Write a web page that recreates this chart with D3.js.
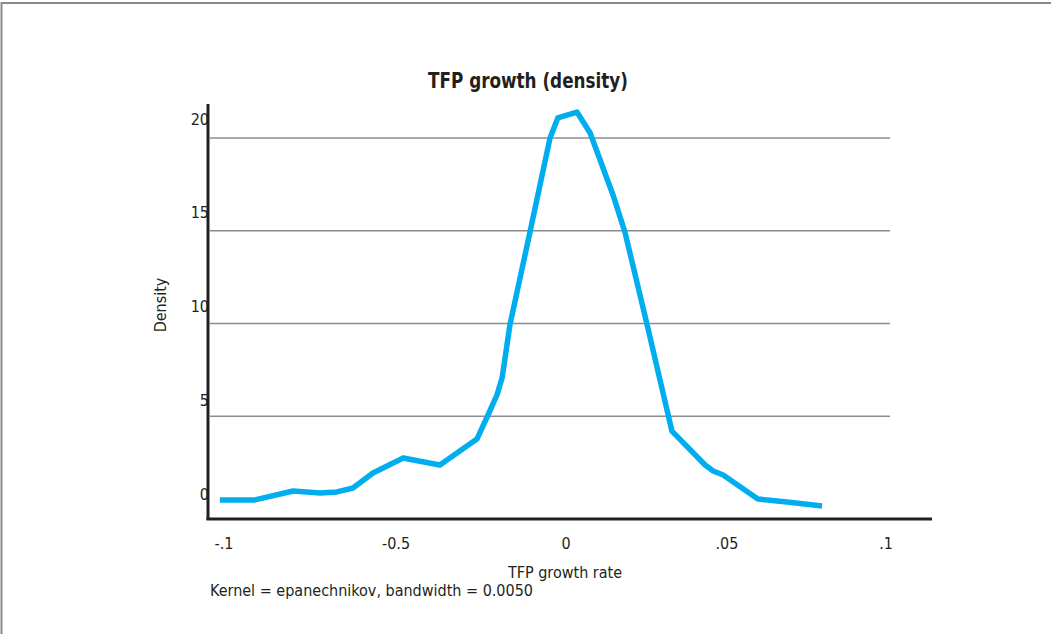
<!DOCTYPE html>
<html lang="en">
<head>
	<meta charset="UTF-8">
	<title>TFP growth (density)</title>
	<script src="https://d3js.org/d3.v7.min.js"></script>
	<style>
		body { margin: 0; background: #fff; }
		text { font-family: "Liberation Sans Narrow", "DejaVu Sans Condensed", "Arial Narrow", sans-serif; fill: #231f20; }
	</style>
</head>
<body>
	<script type="text/javascript">
		// density estimate
		const growth = [
			-0.1012, -0.0910, -0.0799, -0.0721, -0.0672, -0.0625, -0.0567, -0.0479,
			-0.0371, -0.0262, -0.0232, -0.0203, -0.0188, -0.0165, -0.0106, -0.0047,
			-0.0024, 0.0034, 0.0075, 0.0146, 0.0183, 0.0252, 0.0329, 0.0432,
			0.0457, 0.0488, 0.0597, 0.0689, 0.0799
		];
		const density = [
			0.49, 0.49, 0.97, 0.86, 0.92, 1.13, 1.94, 2.75,
			2.37, 3.77, 4.96, 6.15, 7.06, 9.92, 14.93, 20.0,
			21.08, 21.40, 20.27, 16.93, 14.93, 9.92, 4.20, 2.37,
			2.05, 1.83, 0.54, 0.38, 0.16
		];

		const xTicks = [-0.1, -0.05, 0, 0.05, 0.1];
		const xTickLabels = ["-.1", "-0.5", "0", ".05", ".1"];
		const yTicks = [0, 5, 10, 15, 20];
		const yGrid = [5, 10, 15, 20];

		const width = 1051;
		const height = 634;

		const svg = d3.select("body")
			.append("svg")
			.attr("width", width)
			.attr("height", height);

		// frame
		svg.append("rect")
			.attr("x", 1.5)
			.attr("y", 3)
			.attr("width", 1060)
			.attr("height", 640)
			.attr("fill", "none")
			.attr("stroke", "#8a8a8a")
			.attr("stroke-width", 2);

		// the printed axis is not evenly spaced, so use a piecewise scale
		const xScale = d3.scaleLinear()
			.domain(xTicks)
			.range([224, 396, 566, 727, 886]);

		const yScale = d3.scaleLinear()
			.domain([0, 20])
			.range([509, 138]);

		// grid
		svg.selectAll("line.grid")
			.data(yGrid)
			.enter()
			.append("line")
			.attr("class", "grid")
			.attr("x1", 210)
			.attr("x2", 890)
			.attr("y1", (d) => yScale(d))
			.attr("y2", (d) => yScale(d))
			.attr("stroke", "#8c8c8c")
			.attr("stroke-width", 1.3);

		// axes lines
		svg.append("line")
			.attr("x1", 208).attr("x2", 208)
			.attr("y1", 104).attr("y2", 520)
			.attr("stroke", "#231f20")
			.attr("stroke-width", 3);
		svg.append("line")
			.attr("x1", 206.5).attr("x2", 932)
			.attr("y1", 519).attr("y2", 519)
			.attr("stroke", "#231f20")
			.attr("stroke-width", 3);

		// y tick labels (sit above the gridlines, drifting a little with height)
		svg.selectAll("text.ytick")
			.data(yTicks)
			.enter()
			.append("text")
			.attr("class", "ytick")
			.attr("x", 209)
			.attr("y", (d) => yScale(d) - 15 - d * 0.2)
			.attr("dy", "0.35em")
			.attr("text-anchor", "end")
			.attr("font-size", "16px")
			.text((d) => d);

		// x tick labels
		svg.selectAll("text.xtick")
			.data(xTicks)
			.enter()
			.append("text")
			.attr("class", "xtick")
			.attr("x", (d) => xScale(d))
			.attr("y", 549)
			.attr("text-anchor", "middle")
			.attr("font-size", "16px")
			.text((d, i) => xTickLabels[i]);

		// curve
		const line = d3.line()
			.x((d, i) => xScale(growth[i]))
			.y((d) => yScale(d));

		svg.append("path")
			.datum(density)
			.attr("d", line)
			.attr("fill", "none")
			.attr("stroke", "#00aeef")
			.attr("stroke-width", 5.5)
			.attr("stroke-linejoin", "round");

		// titles
		svg.append("text")
			.attr("x", 528)
			.attr("y", 88)
			.attr("text-anchor", "middle")
			.attr("font-size", "21px")
			.attr("font-weight", "bold")
			.attr("textLength", 200)
			.attr("lengthAdjust", "spacingAndGlyphs")
			.text("TFP growth (density)");

		svg.append("text")
			.attr("x", 565)
			.attr("y", 578)
			.attr("text-anchor", "middle")
			.attr("font-size", "16px")
			.text("TFP growth rate");

		svg.append("text")
			.attr("x", 210)
			.attr("y", 596)
			.attr("font-size", "16px")
			.text("Kernel = epanechnikov, bandwidth = 0.0050");

		svg.append("text")
			.attr("transform", "translate(166,305) rotate(-90)")
			.attr("text-anchor", "middle")
			.attr("font-size", "16px")
			.text("Density");
	</script>
</body>
</html>
